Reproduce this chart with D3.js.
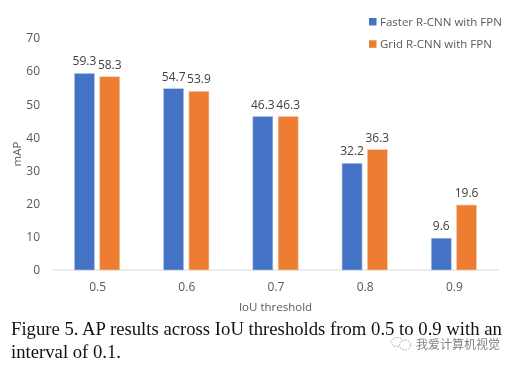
<!DOCTYPE html>
<html>
<head>
<meta charset="utf-8">
<script src="https://cdn.jsdelivr.net/npm/d3@7"></script>
<style>
  html, body { margin: 0; background: #fff; }
  svg { display: block; filter: blur(0.35px); }
  .chart-text { font-family: "Open Sans", "Noto Sans", sans-serif; fill: #595959; }
  .caption { font-family: "Liberation Serif", serif; font-size: 18.7px; fill: #111; }
</style>
</head>
<body>
<div id="plot"></div>
<script>
const categories = ["0.5", "0.6", "0.7", "0.8", "0.9"]
const seriesNames = ["Faster R-CNN with FPN", "Grid R-CNN with FPN"]
const fasterValues = [59.3, 54.7, 46.3, 32.2, 9.6]
const gridValues = [58.3, 53.9, 46.3, 36.3, 19.6]
const seriesColors = ["#4472c4", "#ed7d31"]
const seriesEdges = ["#b4c7e7", "#f8cbad"]
const yTicks = [0, 10, 20, 30, 40, 50, 60, 70]
const captionLines = [
  "Figure 5. AP results across IoU thresholds from 0.5 to 0.9 with an",
  "interval of 0.1."
]
const watermark = "我爱计算机视觉"

const w = 516,
      h = 367,
      margin = {left: 52.5, right: 17.5, top: 38, bottom: 97}

const svg = d3.select("#plot").append("svg")
  .attr("width", w)
  .attr("height", h)

const x = d3.scaleBand()
  .domain(categories)
  .range([margin.left, w - margin.right])
  .paddingInner(0.492)
  .paddingOuter(0.246)

const xSeries = d3.scaleBand()
  .domain([0, 1])
  .range([0, x.bandwidth()])
  .paddingInner(0.21)

const y = d3.scaleLinear()
  .domain([0, 70])
  .range([h - margin.bottom, margin.top])

// y axis, labels only
const yAxis = svg.append("g")
  .attr("class", "axis")
  .attr("transform", `translate(${margin.left - 12.5}, 0)`)
  .call(d3.axisLeft(y).tickValues(yTicks).tickSize(0).tickPadding(0))
yAxis.select(".domain").remove()
yAxis.selectAll("text")
  .attr("class", "chart-text")
  .style("font-size", "12px")

// x axis
const xAxis = svg.append("g")
  .attr("transform", `translate(0, ${h - margin.bottom})`)
  .call(d3.axisBottom(d3.scalePoint()
    .domain(categories)
    .range([x("0.5") + x.bandwidth() / 2, x("0.9") + x.bandwidth() / 2]))
    .tickSize(0).tickPadding(12))
xAxis.select(".domain").remove()
xAxis.selectAll("text")
  .attr("class", "chart-text")
  .style("font-size", "12px")

svg.append("line")
  .attr("x1", margin.left)
  .attr("x2", w - margin.right)
  .attr("y1", y(0))
  .attr("y2", y(0))
  .attr("stroke", "#d9d9d9")
  .attr("stroke-width", 1)

const allValues = [fasterValues, gridValues]

allValues.forEach((values, s) => {
  const group = svg.append("g")

  group.selectAll("rect")
    .data(values)
    .join("rect")
    .attr("x", (d, i) => x(categories[i]) + xSeries(s))
    .attr("y", d => y(d))
    .attr("width", xSeries.bandwidth())
    .attr("height", d => y(0) - y(d))
    .attr("fill", seriesColors[s])
    .attr("stroke", seriesEdges[s])
    .attr("stroke-width", 0.6)

  group.selectAll("text")
    .data(values)
    .join("text")
    .attr("class", "chart-text")
    .attr("x", (d, i) => x(categories[i]) + xSeries(s) + xSeries.bandwidth() / 2)
    .attr("y", d => y(d) - 8)
    .attr("text-anchor", "middle")
    .style("font-size", "12px")
    .style("fill", "#404040")
    .text(d => d.toFixed(1))
})

// axis titles
svg.append("text")
  .attr("class", "chart-text")
  .attr("transform", `translate(21, ${y(35)}) rotate(-90)`)
  .attr("text-anchor", "middle")
  .style("font-size", "11.5px")
  .text("mAP")

svg.append("text")
  .attr("class", "chart-text")
  .attr("x", 275.5)
  .attr("y", 311)
  .attr("text-anchor", "middle")
  .style("font-size", "11.5px")
  .text("IoU threshold")

// legend
const legend = svg.append("g")
seriesNames.forEach((name, s) => {
  legend.append("rect")
    .attr("x", 369)
    .attr("y", 18 + s * 22.3)
    .attr("width", 7.5)
    .attr("height", 7.5)
    .attr("fill", seriesColors[s])
  legend.append("text")
    .attr("class", "chart-text")
    .attr("x", 380)
    .attr("y", 26 + s * 22.3)
    .style("font-size", "11.5px")
    .text(name)
})

// caption
svg.selectAll(".caption")
  .data(captionLines)
  .join("text")
  .attr("class", "caption")
  .attr("x", 11)
  .attr("y", (d, i) => 335 + i * 23)
  .text(d => d)

// watermark
const mark = svg.append("g").attr("opacity", 0.75)
mark.append("ellipse")
  .attr("cx", 397).attr("cy", 342).attr("rx", 6).attr("ry", 4.5)
  .attr("fill", "#fff").attr("stroke", "#999").attr("stroke-dasharray", "2 1")
mark.append("ellipse")
  .attr("cx", 405).attr("cy", 345).attr("rx", 5.5).attr("ry", 5)
  .attr("fill", "#fff").attr("stroke", "#999").attr("stroke-dasharray", "2 1")
mark.append("text")
  .attr("x", 416)
  .attr("y", 349)
  .style("font-family", '"Noto Sans CJK SC", sans-serif')
  .style("font-size", "12px")
  .style("fill", "#555")
  .text(watermark)
</script>
</body>
</html>
